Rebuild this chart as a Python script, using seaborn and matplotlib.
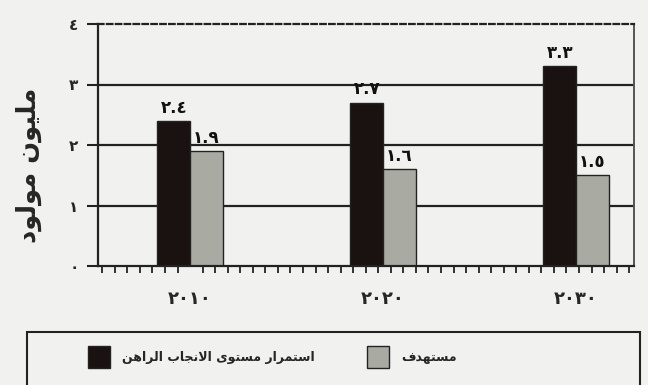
import matplotlib
matplotlib.use("Agg")
import matplotlib.pyplot as plt
import seaborn as sns
import pandas as pd
from matplotlib.patches import Rectangle
from matplotlib.ticker import MultipleLocator, FixedLocator

# ---------------- data ----------------
years = ["2010", "2020", "2030"]
current_level = [2.4, 2.7, 3.3]   # استمرار مستوى الانجاب الراهن
target_level = [1.9, 1.6, 1.5]    # مستهدف
series_names = ["استمرار مستوى الانجاب الراهن", "مستهدف"]
y_label = "مليون مولود"
y_ticks = [0, 1, 2, 3, 4]

# ---------------- Arabic helpers ----------------
FORMS = {
    'ا': (0xFE8D, 0xFE8E, None, None),
    'ب': (0xFE8F, 0xFE90, 0xFE91, 0xFE92),
    'ت': (0xFE95, 0xFE96, 0xFE97, 0xFE98),
    'ج': (0xFE9D, 0xFE9E, 0xFE9F, 0xFEA0),
    'د': (0xFEA9, 0xFEAA, None, None),
    'ر': (0xFEAD, 0xFEAE, None, None),
    'س': (0xFEB1, 0xFEB2, 0xFEB3, 0xFEB4),
    'ف': (0xFED1, 0xFED2, 0xFED3, 0xFED4),
    'ل': (0xFEDD, 0xFEDE, 0xFEDF, 0xFEE0),
    'م': (0xFEE1, 0xFEE2, 0xFEE3, 0xFEE4),
    'ن': (0xFEE5, 0xFEE6, 0xFEE7, 0xFEE8),
    'ه': (0xFEE9, 0xFEEA, 0xFEEB, 0xFEEC),
    'و': (0xFEED, 0xFEEE, None, None),
    'ى': (0xFEEF, 0xFEF0, None, None),
    'ي': (0xFEF1, 0xFEF2, 0xFEF3, 0xFEF4),
}


def _dual(c):
    return c in FORMS and FORMS[c][2] is not None


def shape(s):
    chars = list(s)
    n = len(chars)
    res = []
    i = 0
    while i < n:
        c = chars[i]
        prev = chars[i - 1] if i > 0 else None
        jp = prev is not None and _dual(prev) and c in FORMS
        if c == 'ل' and i + 1 < n and chars[i + 1] == 'ا':
            res.append(chr(0xFEFC if jp else 0xFEFB))
            i += 2
            continue
        nxt = chars[i + 1] if i + 1 < n else None
        jn = _dual(c) and nxt is not None and nxt in FORMS
        if c in FORMS:
            iso, fin, ini, med = FORMS[c]
            g = med if (jp and jn) else fin if jp else ini if jn else iso
            res.append(chr(g))
        else:
            res.append(c)
        i += 1
    return ''.join(reversed(res))


AR_DIGITS = str.maketrans('0123456789', '٠١٢٣٤٥٦٧٨٩')


def ar_num(s):
    return str(s).translate(AR_DIGITS)


# ---------------- build frame ----------------
labels_shaped = [shape(n) for n in series_names]
rows = []
for y, a, b in zip(years, current_level, target_level):
    rows.append({"year": ar_num(y), "series": labels_shaped[0], "value": a})
    rows.append({"year": ar_num(y), "series": labels_shaped[1], "value": b})
df = pd.DataFrame(rows)

# ---------------- style ----------------
sns.set_style("white")
plt.rcParams['font.family'] = ['DejaVu Sans']
plt.rcParams['font.weight'] = 'bold'

BG = "#f1f1ef"
BLACK = "#1a1210"
GREY = "#a9aba3"

fig = plt.figure(figsize=(6.48, 3.85), dpi=100, facecolor=BG)
ax = fig.add_axes([98 / 648, 1 - 266 / 385, (634 - 98) / 648, (266 - 24) / 385])
ax.set_facecolor(BG)

sns.barplot(data=df, x="year", y="value", hue="series",
            hue_order=labels_shaped, palette=[BLACK, GREY],
            width=0.34, edgecolor="#222222", linewidth=1.0,
            saturation=1, ax=ax, legend=True)

handles, hlabels = ax.get_legend_handles_labels()
ax.legend_.remove()

for cont in ax.containers:
    ax.bar_label(cont, labels=[ar_num(f"{v:.1f}") for v in cont.datavalues],
                 padding=3, fontsize=12, fontweight='bold', color="#111111")

ax.set_xlim(-0.477, 2.3)
ax.set_ylim(0, 4)
ax.yaxis.set_major_locator(FixedLocator(y_ticks))
ax.set_yticklabels([ar_num(t) for t in y_ticks], fontsize=11, fontweight='bold')
ax.set_xticks(range(len(years)))
ax.set_xticklabels([ar_num(y) for y in years], fontsize=13, fontweight='bold')
ax.xaxis.set_minor_locator(MultipleLocator(0.065))
ax.tick_params(axis='x', which='both', bottom=True)
ax.tick_params(axis='x', which='major', length=0, pad=17)
ax.tick_params(axis='x', which='minor', length=5, width=1.3, color="#222222",
               direction='out')
ax.tick_params(axis='y', which='major', left=True, length=8, width=1.5,
               color="#222222", direction='out', pad=6)

ax.set_axisbelow(True)
ax.yaxis.grid(True, color="#222222", linewidth=1.6)
gl = ax.yaxis.get_gridlines()
gl[0].set_visible(False)
gl[-1].set_visible(False)

ax.set_xlabel("")
ax.set_ylabel(shape(y_label), fontsize=18.5, fontweight='bold')
ax.yaxis.set_label_coords(-0.1045, 0.417)

for s in ["left", "bottom"]:
    ax.spines[s].set_color("#222222")
    ax.spines[s].set_linewidth(1.6)
ax.spines["right"].set_color("#555555")
ax.spines["right"].set_linewidth(1.4)
ax.spines["top"].set_color("#222222")
ax.spines["top"].set_linewidth(1.6)
ax.spines["top"].set_linestyle((0, (2.5, 1.5)))

# legend
fig.add_artist(Rectangle((27 / 648, -0.05), (640 - 27) / 648, 1 - 332 / 385 + 0.05,
                         transform=fig.transFigure, fill=False,
                         edgecolor="#222222", linewidth=1.5))
fs = 9
fig.legend(handles, hlabels, ncol=2, loc='center left',
           bbox_to_anchor=(88 / 648, 1 - 357 / 385), frameon=False,
           prop={'weight': 'bold', 'size': fs},
           handlelength=22 / 12.5, handleheight=29 / 12.5,
           handletextpad=12 / 12.5, columnspacing=52 / 12.5,
           borderpad=0, borderaxespad=0)

fig.savefig("out.png", dpi=100, facecolor=BG)
